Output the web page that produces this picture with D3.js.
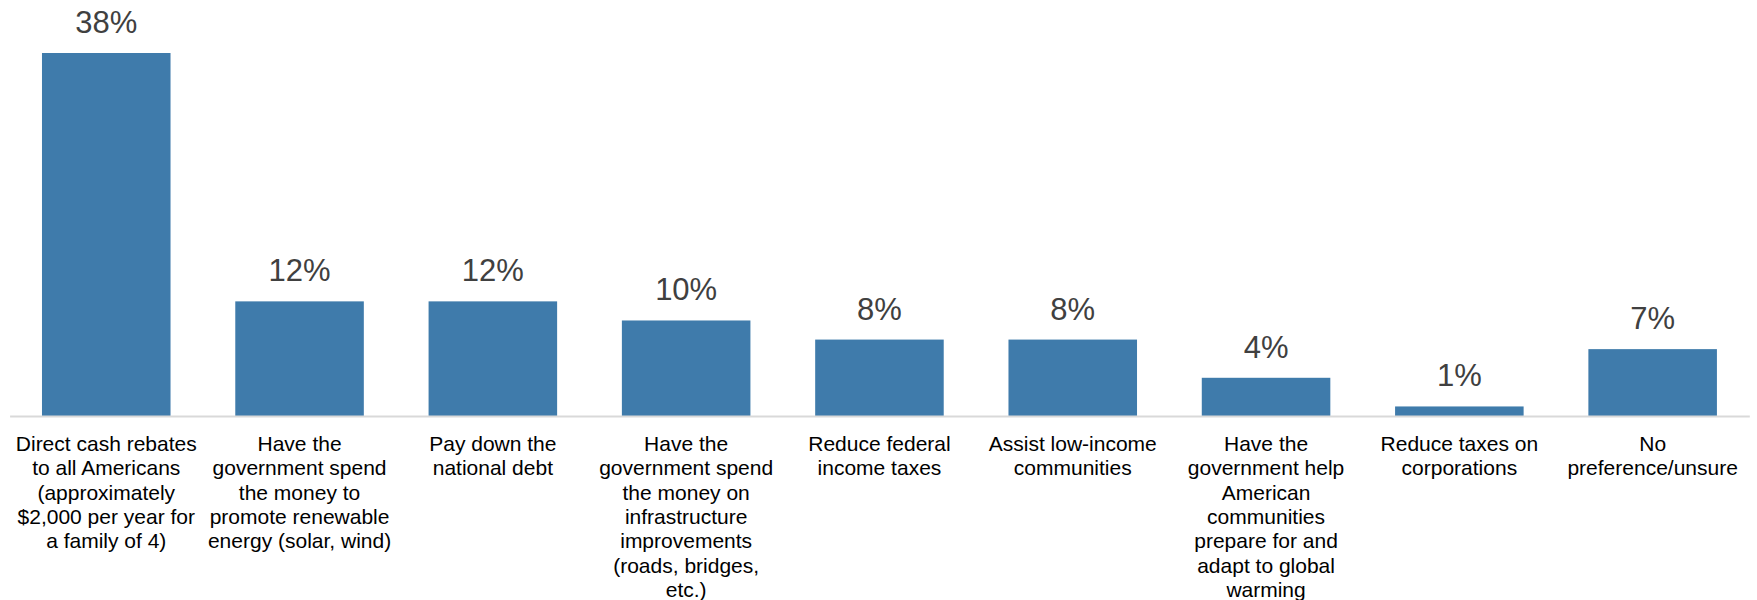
<!DOCTYPE html>
<html>
<head>
<meta charset="utf-8">
<script src="https://cdnjs.cloudflare.com/ajax/libs/d3/7.8.5/d3.min.js"></script>
<style>
  body { margin: 0; background: #fff; }
  text { font-family: "Liberation Sans", Arial, sans-serif; }
</style>
</head>
<body>
<div id="chart"></div>
<script>
// categories, one array of lines per tick label (wrapped as in the original)
var categories = [
  ["Direct cash rebates", "to all Americans", "(approximately", "$2,000 per year for", "a family of 4)"],
  ["Have the", "government spend", "the money to", "promote renewable", "energy (solar, wind)"],
  ["Pay down the", "national debt"],
  ["Have the", "government spend", "the money on", "infrastructure", "improvements", "(roads, bridges,", "etc.)"],
  ["Reduce federal", "income taxes"],
  ["Assist low-income", "communities"],
  ["Have the", "government help", "American", "communities", "prepare for and", "adapt to global", "warming"],
  ["Reduce taxes on", "corporations"],
  ["No", "preference/unsure"]
];
var values = [38, 12, 12, 10, 8, 8, 4, 1, 7];

var width = 1757, height = 600;
var base = 416;

var svg = d3.select("#chart")
  .append("svg")
    .attr("width", width)
    .attr("height", height);

var keys = categories.map(function(c, i) { return i; });

var x = d3.scaleBand()
  .domain(keys)
  .range([9.6, 1749.3])
  .paddingInner(0.335)
  .paddingOuter(0.1675);

var y = d3.scaleLinear()
  .domain([0, 38])
  .range([base, 53]);

// bars
svg.selectAll("rect.bar")
  .data(values)
  .enter().append("rect")
    .attr("class", "bar")
    .attr("x", function(d, i) { return x(i); })
    .attr("y", function(d) { return y(d); })
    .attr("width", x.bandwidth())
    .attr("height", function(d) { return y(0) - y(d); })
    .attr("fill", "#3f7bab");

// value labels
svg.selectAll("text.val")
  .data(values)
  .enter().append("text")
    .attr("class", "val")
    .attr("x", function(d, i) { return x(i) + x.bandwidth() / 2; })
    .attr("y", function(d) { return y(d) - 20; })
    .attr("text-anchor", "middle")
    .attr("font-size", "31px")
    .attr("fill", "#404040")
    .text(function(d) { return d + "%"; });

// x axis
var axis = svg.append("g")
  .attr("transform", "translate(0," + base + ")")
  .call(d3.axisBottom(x).tickSize(0).tickSizeOuter(0).tickFormat(""));

axis.select(".domain")
  .attr("stroke", "#d9d9d9")
  .attr("stroke-width", 2);

axis.selectAll(".tick text").remove();

axis.selectAll(".tick")
  .append("text")
    .attr("text-anchor", "middle")
    .attr("font-size", "21px")
    .attr("fill", "#000")
    .each(function(i) {
      var t = d3.select(this);
      categories[i].forEach(function(line, k) {
        t.append("tspan")
          .attr("x", 0)
          .attr("y", 35 + k * 24.3)
          .text(line);
      });
    });
</script>
</body>
</html>
